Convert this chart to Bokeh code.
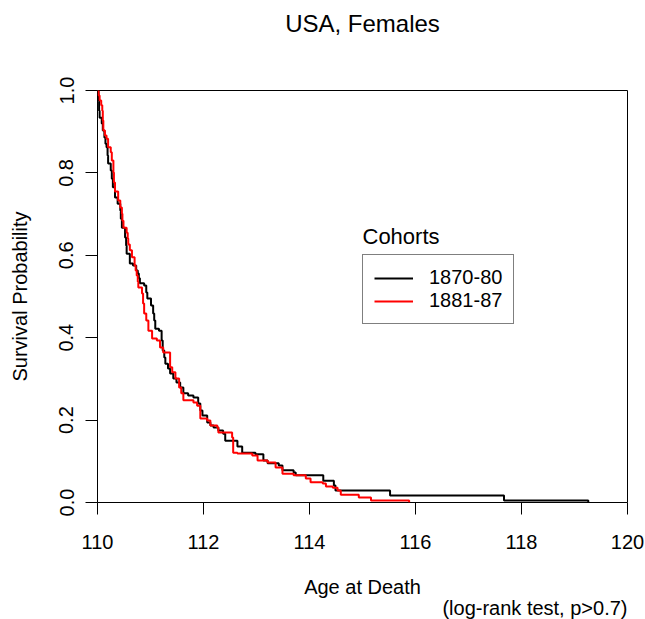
from bokeh.plotting import figure
from bokeh.models import Range1d, FixedTicker, Legend, LegendItem, Label, Title
from bokeh.embed import file_html
from bokeh.resources import INLINE

# ---- data ----
title_text = "USA, Females"
x_label = "Age at Death"
y_label = "Survival Probability"
note_text = "(log-rank test, p>0.7)"
legend_title = "Cohorts"
cohorts = ["1870-80", "1881-87"]
colors = ["#000000", "#FF0000"]

x_ticks = [110, 112, 114, 116, 118, 120]
x_tick_labels = ["110", "112", "114", "116", "118", "120"]
y_ticks = [0.0, 0.2, 0.4, 0.6, 0.8, 1.0]
y_tick_labels = ["0.0", "0.2", "0.4", "0.6", "0.8", "1.0"]

# Kaplan-Meier step points, cohort 1870-80
time_1870 = [110.00, 110.02, 110.03, 110.04, 110.08, 110.10, 110.13, 110.15, 110.17, 110.19,
             110.20, 110.25, 110.27, 110.29, 110.33, 110.38, 110.43, 110.44, 110.46, 110.52,
             110.54, 110.55, 110.61, 110.67, 110.73, 110.76, 110.78, 110.80, 110.88, 110.92,
             110.94, 111.01, 111.05, 111.07, 111.09, 111.16, 111.21, 111.23, 111.26, 111.28,
             111.33, 111.37, 111.43, 111.49, 111.56, 111.62, 111.71, 111.81, 111.90, 111.94,
             111.98, 112.07, 112.13, 112.19, 112.28, 112.37, 112.41, 112.64, 112.73, 112.98,
             113.13, 113.21, 113.42, 113.49, 113.70, 113.74, 114.26, 114.46, 114.49, 115.52,
             117.67, 119.26]
surv_1870 = [1.000, 0.976, 0.951, 0.934, 0.920, 0.903, 0.886, 0.871, 0.862, 0.842,
             0.823, 0.806, 0.786, 0.765, 0.740, 0.725, 0.709, 0.689, 0.667, 0.643,
             0.624, 0.604, 0.580, 0.575, 0.563, 0.556, 0.544, 0.532, 0.527, 0.510,
             0.495, 0.478, 0.459, 0.442, 0.422, 0.417, 0.393, 0.369, 0.352, 0.337,
             0.325, 0.313, 0.301, 0.291, 0.279, 0.265, 0.260, 0.255, 0.240, 0.223,
             0.211, 0.194, 0.187, 0.182, 0.175, 0.167, 0.150, 0.136, 0.121, 0.117,
             0.102, 0.095, 0.090, 0.078, 0.073, 0.066, 0.053, 0.041, 0.029, 0.017,
             0.005, 0.000]

# Kaplan-Meier step points, cohort 1881-87
time_1881 = [110.00, 110.02, 110.04, 110.07, 110.09, 110.10, 110.11, 110.14, 110.17, 110.20,
             110.25, 110.27, 110.30, 110.31, 110.33, 110.39, 110.43, 110.46, 110.47, 110.49,
             110.55, 110.57, 110.58, 110.61, 110.65, 110.70, 110.72, 110.74, 110.76, 110.77,
             110.84, 110.86, 110.88, 110.92, 110.96, 111.03, 111.12, 111.18, 111.24, 111.37,
             111.41, 111.47, 111.54, 111.58, 111.62, 111.81, 111.88, 111.94, 112.07, 112.13,
             112.26, 112.28, 112.54, 112.56, 112.64, 112.92, 113.02, 113.21, 113.36, 113.49,
             113.70, 113.93, 114.02, 114.25, 114.31, 114.44, 114.53, 114.59, 114.93, 115.16,
             115.88]
surv_1881 = [1.000, 0.988, 0.976, 0.964, 0.951, 0.927, 0.903, 0.891, 0.883, 0.862,
             0.850, 0.830, 0.801, 0.777, 0.755, 0.733, 0.716, 0.701, 0.684, 0.667,
             0.655, 0.641, 0.626, 0.612, 0.595, 0.575, 0.563, 0.551, 0.536, 0.522,
             0.507, 0.483, 0.459, 0.442, 0.417, 0.398, 0.393, 0.376, 0.364, 0.328,
             0.316, 0.301, 0.279, 0.265, 0.248, 0.243, 0.235, 0.204, 0.199, 0.187,
             0.182, 0.170, 0.158, 0.121, 0.119, 0.114, 0.102, 0.097, 0.085, 0.070,
             0.066, 0.058, 0.049, 0.046, 0.039, 0.036, 0.029, 0.019, 0.012, 0.005,
             0.000]

FONT = "Liberation Sans"

p = figure(frame_width=530, frame_height=412, title=None,
           x_range=Range1d(110, 120), y_range=Range1d(0, 1),
           output_backend="svg", toolbar_location=None,
           min_border_left=97, min_border_right=18,
           min_border_top=90, min_border_bottom=117)
p.grid.visible = False
p.background_fill_color = "white"
p.border_fill_color = "white"
p.outline_line_color = "black"
p.outline_line_width = 1
p.outline_line_alpha = 1.0

# spacer (closest to the frame) and then the real title above it
spacer = Title(text=" ", text_font=FONT, text_font_size="2px", text_color="white")
spacer.standoff = 50
p.add_layout(spacer, "above")
main_title = Title(text=title_text, align="center", text_font=FONT,
                   text_font_size="24px", text_font_style="normal", text_color="black")
main_title.standoff = 0
p.add_layout(main_title, "above")

r1 = p.step(time_1870, surv_1870, mode="after", line_color=colors[0], line_width=2)
r2 = p.step(time_1881, surv_1881, mode="after", line_color=colors[1], line_width=2)

# axes
p.xaxis.ticker = FixedTicker(ticks=x_ticks)
p.xaxis.major_label_overrides = {t: l for t, l in zip(x_ticks, x_tick_labels)}
p.yaxis.ticker = FixedTicker(ticks=y_ticks)
p.yaxis.major_label_overrides = {t: l for t, l in zip(y_ticks, y_tick_labels)}
for ax in (p.xaxis[0], p.yaxis[0]):
    ax.axis_line_color = None
    ax.major_tick_in = 0
    ax.major_tick_out = 12
    ax.major_tick_line_color = "black"
    ax.minor_tick_line_color = None
    ax.major_label_text_font = FONT
    ax.major_label_text_font_size = "20px"
    ax.major_label_text_color = "black"
    ax.axis_label_text_font = FONT
    ax.axis_label_text_font_size = "20px"
    ax.axis_label_text_font_style = "normal"
    ax.axis_label_text_color = "black"
p.xaxis.axis_label = x_label
p.yaxis.axis_label = y_label
p.xaxis.major_label_standoff = 20
p.xaxis.axis_label_standoff = 24
p.yaxis.major_label_orientation = "vertical"
p.yaxis.major_label_standoff = 12
p.yaxis.axis_label_standoff = 26

# note under the x-axis label, right aligned with the plot frame
note = Title(text=note_text, align="right", text_font=FONT,
             text_font_size="20px", text_font_style="normal", text_color="black")
try:
    note.standoff = -12
except Exception:
    note.standoff = 0
p.add_layout(note, "below")

# legend title
p.add_layout(Label(x=115, y=0.646, text=legend_title, text_align="left",
                   text_baseline="alphabetic", text_font=FONT,
                   text_font_size="22px", text_color="black"))

legend = Legend(items=[LegendItem(label=cohorts[0], renderers=[r1]),
                       LegendItem(label=cohorts[1], renderers=[r2])],
                location=(265, 178))
legend.margin = 0
legend.padding = 11
legend.spacing = 0
legend.glyph_width = 39
legend.glyph_height = 20
legend.label_height = 20
legend.label_standoff = 16
legend.label_text_font = FONT
legend.label_text_font_size = "20px"
legend.label_text_color = "black"
legend.border_line_color = "black"
legend.border_line_width = 1
legend.background_fill_color = "white"
legend.background_fill_alpha = 1.0
p.add_layout(legend)

open("out.html", "w").write(file_html(p, INLINE))
